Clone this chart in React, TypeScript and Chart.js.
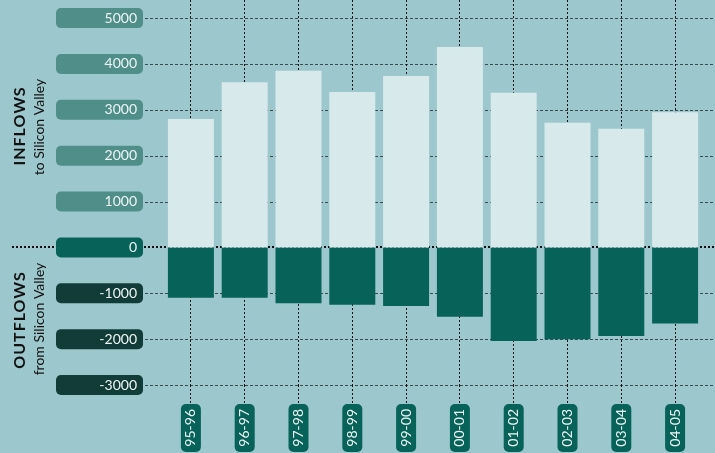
import React, { useEffect, useRef } from "react";
import { Chart, registerables } from "chart.js";

Chart.register(...registerables);

const categories = ["95-96", "96-97", "97-98", "98-99", "99-00", "00-01", "01-02", "02-03", "03-04", "04-05"];
const inflows = [2800, 3600, 3850, 3390, 3740, 4370, 3370, 2720, 2590, 2950];
const outflows = [-1100, -1100, -1220, -1250, -1280, -1510, -2040, -2000, -1930, -1660];
const yTicks = [5000, 4000, 3000, 2000, 1000, 0, -1000, -2000, -3000];
const Y_MIN = -3000;
const Y_MAX = 5395;

const BG = "#9cc8cd";
const IN_COLOR = "#d8e9ec";
const OUT_COLOR = "#07625a";
const POS_BOX = "#4f8e89";
const ZERO_BOX = "#07625a";
const NEG_BOX = "#113c37";
const LABEL_COLOR = "#eef6f5";
const HGRID = "#3b4a4c";
const VGRID = "#141414";

function rr(ctx: CanvasRenderingContext2D, x: number, y: number, w: number, h: number, r: number) {
  ctx.beginPath();
  ctx.moveTo(x + r, y);
  ctx.lineTo(x + w - r, y);
  ctx.arcTo(x + w, y, x + w, y + r, r);
  ctx.lineTo(x + w, y + h - r);
  ctx.arcTo(x + w, y + h, x + w - r, y + h, r);
  ctx.lineTo(x + r, y + h);
  ctx.arcTo(x, y + h, x, y + h - r, r);
  ctx.lineTo(x, y + r);
  ctx.arcTo(x, y, x + r, y, r);
  ctx.closePath();
}

const decor = {
  id: "decor",
  beforeDraw(chart: any) {
    const { ctx, width, height, chartArea } = chart;
    const ys = chart.scales.y;
    const xs = chart.scales.x;
    ctx.save();
    ctx.fillStyle = BG;
    ctx.fillRect(0, 0, width, height);

    // horizontal grid lines
    yTicks.forEach((v) => {
      const py = ys.getPixelForValue(v);
      ctx.beginPath();
      if (v === 0) {
        ctx.lineWidth = 2;
        ctx.strokeStyle = "#101010";
        ctx.setLineDash([2, 2]);
        const yy = Math.round(py);
        ctx.moveTo(12, yy);
        ctx.lineTo(width, yy);
      } else {
        ctx.lineWidth = 1;
        ctx.strokeStyle = HGRID;
        ctx.setLineDash([3, 2]);
        const yy = Math.round(py) + 0.5;
        ctx.moveTo(145, yy);
        ctx.lineTo(width, yy);
      }
      ctx.stroke();
    });
    ctx.setLineDash([]);

    // y label boxes
    yTicks.forEach((v) => {
      const py = ys.getPixelForValue(v);
      ctx.fillStyle = v > 0 ? POS_BOX : v === 0 ? ZERO_BOX : NEG_BOX;
      rr(ctx, 56, py - 10, 87, 20, 5);
      ctx.fill();
    });

    // x label boxes
    categories.forEach((_, i) => {
      const px = xs.getPixelForTick(i);
      ctx.fillStyle = ZERO_BOX;
      rr(ctx, px - 10, chartArea.bottom + 19, 20, 48, 5);
      ctx.fill();
    });
    ctx.restore();
  },
  afterDraw(chart: any) {
    const { ctx } = chart;
    const drawRot = (text: string, x: number, y: number, font: string, spacing: string) => {
      ctx.save();
      ctx.translate(x, y);
      ctx.rotate(-Math.PI / 2);
      ctx.font = font;
      try {
        (ctx as any).letterSpacing = spacing;
      } catch (e) {}
      ctx.textAlign = "center";
      ctx.textBaseline = "middle";
      ctx.fillStyle = "#111111";
      ctx.fillText(text, 0, 0);
      ctx.restore();
    };
    drawRot("INFLOWS", 20, 126, "bold 16px Lato", "1px");
    drawRot("to Silicon Valley", 39, 127, "14px Lato", "0px");
    drawRot("OUTFLOWS", 20, 320, "bold 16px Lato", "1px");
    drawRot("from Silicon Valley", 39, 319, "14px Lato", "0px");
  },
};

export default function App() {
  const ref = useRef<HTMLCanvasElement | null>(null);

  useEffect(() => {
    if (!ref.current) return;
    Chart.defaults.font.family = "Lato";
    const chart = new Chart(ref.current, {
      type: "bar",
      data: {
        labels: categories,
        datasets: [
          {
            label: "Inflows to Silicon Valley",
            data: inflows,
            backgroundColor: IN_COLOR,
            borderWidth: 0,
            barPercentage: 0.855,
            categoryPercentage: 1,
          },
          {
            label: "Outflows from Silicon Valley",
            data: outflows,
            backgroundColor: OUT_COLOR,
            borderWidth: 0,
            barPercentage: 0.855,
            categoryPercentage: 1,
          },
        ],
      },
      options: {
        animation: false,
        responsive: true,
        maintainAspectRatio: false,
        layout: { padding: { left: 0, right: 13, top: 0, bottom: 0 } },
        plugins: {
          legend: { display: false },
          tooltip: { enabled: false },
        },
        scales: {
          x: {
            stacked: true,
            grid: {
              offset: false,
              color: VGRID,
              lineWidth: 1,
              tickLength: 18,
              tickColor: VGRID,
              tickWidth: 1,
              tickBorderDash: [2, 2],
            },
            border: { display: false, dash: [2, 2] },
            ticks: {
              color: LABEL_COLOR,
              font: { family: "Lato", size: 14 },
              minRotation: 90,
              maxRotation: 90,
              padding: 6,
              autoSkip: false,
            },
            afterFit: (s: any) => {
              s.height = 68;
              s.paddingLeft = 0;
              s.paddingRight = 0;
            },
          },
          y: {
            stacked: true,
            min: Y_MIN,
            max: Y_MAX,
            afterBuildTicks: (s: any) => {
              s.ticks = yTicks.map((v) => ({ value: v }));
            },
            grid: { display: false, drawTicks: false },
            border: { display: false },
            ticks: {
              color: LABEL_COLOR,
              font: { family: "Lato", size: 14 },
              padding: 27,
              callback: (v: any) => String(v),
            },
            afterFit: (s: any) => {
              s.width = 164;
              s.paddingTop = 0;
              s.paddingBottom = 0;
            },
          },
        },
      },
      plugins: [decor],
    });
    return () => chart.destroy();
  }, []);

  return (
    <div style={{ position: "fixed", left: 0, top: 0, width: 715, height: 453, background: BG }}>
      <canvas ref={ref} />
    </div>
  );
}
